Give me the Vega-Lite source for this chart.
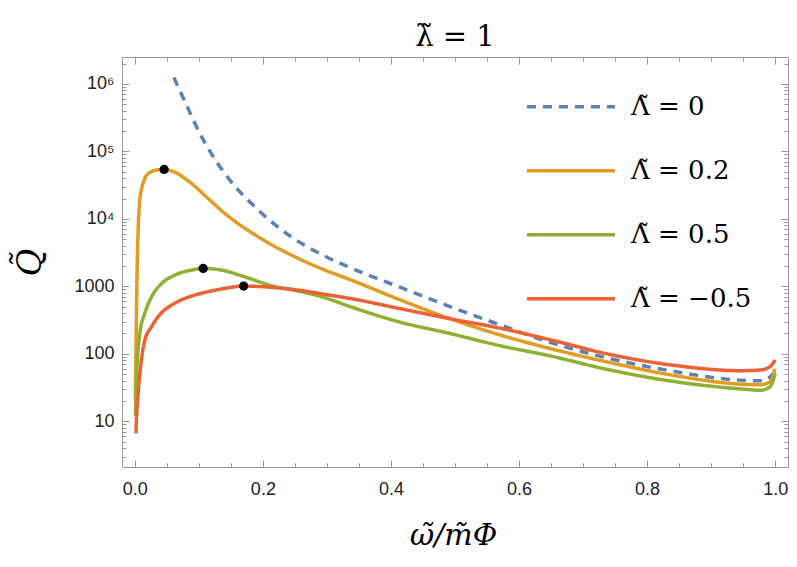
{
  "$schema": "https://vega.github.io/schema/vega-lite/v6.json",
  "width": 666,
  "height": 410,
  "autosize": {"type": "none"},
  "padding": {"left": 122, "top": 57, "right": 9, "bottom": 100},
  "background": "white",
  "title": {"text": "λ̃ = 1", "font": "DejaVu Serif", "fontSize": 29, "fontWeight": "normal", "color": "black", "anchor": "middle", "baseline": "alphabetic", "offset": -18},
  "config": {
    "view": {"stroke": "#999", "strokeWidth": 1},
    "axis": {"grid": false, "domain": false, "tickColor": "#999", "tickWidth": 1, "labelFont": "Liberation Sans", "labelFontSize": 18, "labelColor": "#222", "titleColor": "black"},
    "legend": {"labelFont": "DejaVu Serif", "labelFontSize": 26, "labelColor": "black", "labelOffset": 14, "rowPadding": 0, "clipHeight": 63.5, "symbolType": "stroke", "symbolSize": 7744, "symbolStrokeWidth": 3.5, "titleFontSize": 0}
  },
  "datasets": {
    "curves": [
      {"s": "Λ̃ = 0", "x": 0.061, "q": 1245000},
      {"s": "Λ̃ = 0", "x": 0.08, "q": 501187},
      {"s": "Λ̃ = 0", "x": 0.1016, "q": 184077},
      {"s": "Λ̃ = 0", "x": 0.1206, "q": 89125},
      {"s": "Λ̃ = 0", "x": 0.1406, "q": 46774},
      {"s": "Λ̃ = 0", "x": 0.1927, "q": 13490},
      {"s": "Λ̃ = 0", "x": 0.245, "q": 5370},
      {"s": "Λ̃ = 0", "x": 0.292, "q": 2950},
      {"s": "Λ̃ = 0", "x": 0.336, "q": 1900},
      {"s": "Λ̃ = 0", "x": 0.414, "q": 970},
      {"s": "Λ̃ = 0", "x": 0.492, "q": 501},
      {"s": "Λ̃ = 0", "x": 0.57, "q": 269},
      {"s": "Λ̃ = 0", "x": 0.648, "q": 148},
      {"s": "Λ̃ = 0", "x": 0.737, "q": 87.1},
      {"s": "Λ̃ = 0", "x": 0.841, "q": 55.0},
      {"s": "Λ̃ = 0", "x": 0.945, "q": 40.7},
      {"s": "Λ̃ = 0", "x": 0.982, "q": 39.8},
      {"s": "Λ̃ = 0", "x": 0.997, "q": 51.3},
      {"s": "Λ̃ = 0.2", "x": 0.0008, "q": 20},
      {"s": "Λ̃ = 0.2", "x": 0.002, "q": 158},
      {"s": "Λ̃ = 0.2", "x": 0.0035, "q": 1585},
      {"s": "Λ̃ = 0.2", "x": 0.0055, "q": 7943},
      {"s": "Λ̃ = 0.2", "x": 0.0078, "q": 19055},
      {"s": "Λ̃ = 0.2", "x": 0.0104, "q": 26915},
      {"s": "Λ̃ = 0.2", "x": 0.0156, "q": 39811},
      {"s": "Λ̃ = 0.2", "x": 0.021, "q": 46774},
      {"s": "Λ̃ = 0.2", "x": 0.026, "q": 50119},
      {"s": "Λ̃ = 0.2", "x": 0.035, "q": 53088},
      {"s": "Λ̃ = 0.2", "x": 0.0458, "q": 53951},
      {"s": "Λ̃ = 0.2", "x": 0.06, "q": 50119},
      {"s": "Λ̃ = 0.2", "x": 0.0885, "q": 33420},
      {"s": "Λ̃ = 0.2", "x": 0.1146, "q": 19953},
      {"s": "Λ̃ = 0.2", "x": 0.1406, "q": 12023},
      {"s": "Λ̃ = 0.2", "x": 0.1927, "q": 5408},
      {"s": "Λ̃ = 0.2", "x": 0.245, "q": 2884},
      {"s": "Λ̃ = 0.2", "x": 0.297, "q": 1738},
      {"s": "Λ̃ = 0.2", "x": 0.336, "q": 1259},
      {"s": "Λ̃ = 0.2", "x": 0.414, "q": 631},
      {"s": "Λ̃ = 0.2", "x": 0.492, "q": 331},
      {"s": "Λ̃ = 0.2", "x": 0.57, "q": 190.5},
      {"s": "Λ̃ = 0.2", "x": 0.648, "q": 120},
      {"s": "Λ̃ = 0.2", "x": 0.737, "q": 75.9},
      {"s": "Λ̃ = 0.2", "x": 0.841, "q": 47.9},
      {"s": "Λ̃ = 0.2", "x": 0.945, "q": 35.5},
      {"s": "Λ̃ = 0.2", "x": 0.977, "q": 34.7},
      {"s": "Λ̃ = 0.2", "x": 0.992, "q": 38.5},
      {"s": "Λ̃ = 0.2", "x": 0.997, "q": 45.7},
      {"s": "Λ̃ = 0.2", "x": 0.999, "q": 60.3},
      {"s": "Λ̃ = 0.5", "x": 0.001, "q": 12.0},
      {"s": "Λ̃ = 0.5", "x": 0.0025, "q": 40},
      {"s": "Λ̃ = 0.5", "x": 0.0042, "q": 85},
      {"s": "Λ̃ = 0.5", "x": 0.0078, "q": 200},
      {"s": "Λ̃ = 0.5", "x": 0.0156, "q": 398},
      {"s": "Λ̃ = 0.5", "x": 0.026, "q": 692},
      {"s": "Λ̃ = 0.5", "x": 0.0417, "q": 1096},
      {"s": "Λ̃ = 0.5", "x": 0.0625, "q": 1466},
      {"s": "Λ̃ = 0.5", "x": 0.0885, "q": 1738},
      {"s": "Λ̃ = 0.5", "x": 0.1068, "q": 1841},
      {"s": "Λ̃ = 0.5", "x": 0.1406, "q": 1700},
      {"s": "Λ̃ = 0.5", "x": 0.1667, "q": 1430},
      {"s": "Λ̃ = 0.5", "x": 0.219, "q": 990},
      {"s": "Λ̃ = 0.5", "x": 0.258, "q": 840},
      {"s": "Λ̃ = 0.5", "x": 0.297, "q": 676},
      {"s": "Λ̃ = 0.5", "x": 0.336, "q": 501},
      {"s": "Λ̃ = 0.5", "x": 0.414, "q": 295},
      {"s": "Λ̃ = 0.5", "x": 0.492, "q": 200},
      {"s": "Λ̃ = 0.5", "x": 0.57, "q": 132},
      {"s": "Λ̃ = 0.5", "x": 0.648, "q": 93.3},
      {"s": "Λ̃ = 0.5", "x": 0.737, "q": 58.9},
      {"s": "Λ̃ = 0.5", "x": 0.841, "q": 38.9},
      {"s": "Λ̃ = 0.5", "x": 0.945, "q": 30.2},
      {"s": "Λ̃ = 0.5", "x": 0.977, "q": 28.8},
      {"s": "Λ̃ = 0.5", "x": 0.992, "q": 32.4},
      {"s": "Λ̃ = 0.5", "x": 1.0, "q": 51.3},
      {"s": "Λ̃ = −0.5", "x": 0.0016, "q": 6.61},
      {"s": "Λ̃ = −0.5", "x": 0.003, "q": 12.6},
      {"s": "Λ̃ = −0.5", "x": 0.0052, "q": 25.7},
      {"s": "Λ̃ = −0.5", "x": 0.0104, "q": 81.3},
      {"s": "Λ̃ = −0.5", "x": 0.0156, "q": 158.5},
      {"s": "Λ̃ = −0.5", "x": 0.026, "q": 251},
      {"s": "Λ̃ = −0.5", "x": 0.0365, "q": 355},
      {"s": "Λ̃ = −0.5", "x": 0.0625, "q": 562},
      {"s": "Λ̃ = −0.5", "x": 0.0885, "q": 716},
      {"s": "Λ̃ = −0.5", "x": 0.1146, "q": 832},
      {"s": "Λ̃ = −0.5", "x": 0.1406, "q": 933},
      {"s": "Λ̃ = −0.5", "x": 0.17, "q": 1007},
      {"s": "Λ̃ = −0.5", "x": 0.219, "q": 955},
      {"s": "Λ̃ = −0.5", "x": 0.258, "q": 871},
      {"s": "Λ̃ = −0.5", "x": 0.297, "q": 759},
      {"s": "Λ̃ = −0.5", "x": 0.336, "q": 661},
      {"s": "Λ̃ = −0.5", "x": 0.414, "q": 468},
      {"s": "Λ̃ = −0.5", "x": 0.492, "q": 331},
      {"s": "Λ̃ = −0.5", "x": 0.57, "q": 240},
      {"s": "Λ̃ = −0.5", "x": 0.648, "q": 162},
      {"s": "Λ̃ = −0.5", "x": 0.737, "q": 100},
      {"s": "Λ̃ = −0.5", "x": 0.841, "q": 67.6},
      {"s": "Λ̃ = −0.5", "x": 0.945, "q": 56.2},
      {"s": "Λ̃ = −0.5", "x": 0.977, "q": 57.5},
      {"s": "Λ̃ = −0.5", "x": 0.992, "q": 64.6},
      {"s": "Λ̃ = −0.5", "x": 1.0, "q": 81.3}
    ],
    "peaks": [
      {"x": 0.0458, "q": 53951},
      {"x": 0.1068, "q": 1841},
      {"x": 0.17, "q": 1007}
    ]
  },
  "resolve": {"axis": {"x": "independent", "y": "independent"}},
  "layer": [
    {
      "data": {"name": "curves"},
      "mark": {"type": "line", "strokeWidth": 3.5, "interpolate": "monotone"},
      "encoding": {
        "x": {"field": "x", "type": "quantitative", "scale": {"domain": [-0.02, 1.02], "nice": false, "zero": false},
              "axis": {"orient": "bottom", "values": [0, 0.2, 0.4, 0.6, 0.8, 1.0], "format": ".1f", "tickSize": -7, "labelPadding": 20,
                       "title": "ω̃/m̃Φ", "titleFont": "DejaVu Serif", "titleFontStyle": "italic", "titleFontWeight": "normal", "titleFontSize": 30,
                       "titleX": 331, "titleY": 68, "titleBaseline": "middle", "titleAlign": "center"}},
        "y": {"field": "q", "type": "quantitative", "scale": {"type": "log", "domain": [2.1, 2500000], "nice": false},
              "axis": {"orient": "left", "values": [10, 100, 1000, 10000, 100000, 1000000], "tickSize": -7, "labelPadding": 15,
                       "labelExpr": "datum.value == 1000000 ? '10⁶' : datum.value == 100000 ? '10⁵' : datum.value == 10000 ? '10⁴' : format(datum.value, 'd')",
                       "title": "Q̃", "titleFont": "DejaVu Serif", "titleFontStyle": "italic", "titleFontWeight": "normal", "titleFontSize": 34,
                       "titleX": -92, "titleY": 205, "titleAngle": -90, "titleBaseline": "middle", "titleAlign": "center"}},
        "color": {"field": "s", "type": "nominal",
                  "scale": {"domain": ["Λ̃ = 0", "Λ̃ = 0.2", "Λ̃ = 0.5", "Λ̃ = −0.5"], "range": ["#5E81B5", "#E19C24", "#8FB032", "#EB6235"]},
                  "legend": {"orient": "none", "legendX": 403, "legendY": 18, "title": null}},
        "strokeDash": {"field": "s", "type": "nominal",
                       "scale": {"domain": ["Λ̃ = 0", "Λ̃ = 0.2", "Λ̃ = 0.5", "Λ̃ = −0.5"], "range": [[9, 7], [1, 0], [1, 0], [1, 0]]},
                       "legend": {"orient": "none", "legendX": 403, "legendY": 18, "title": null}}
      }
    },
    {
      "data": {"name": "peaks"},
      "mark": {"type": "point", "filled": true, "color": "black", "size": 85, "opacity": 1},
      "encoding": {
        "x": {"field": "x", "type": "quantitative",
              "axis": {"orient": "bottom", "values": [0.05, 0.1, 0.15, 0.25, 0.3, 0.35, 0.45, 0.5, 0.55, 0.65, 0.7, 0.75, 0.85, 0.9, 0.95], "tickSize": -4, "labels": false, "title": null}},
        "y": {"field": "q", "type": "quantitative",
              "axis": {"orient": "left", "values": [3,4,5,6,7,8,9,20,30,40,50,60,70,80,90,200,300,400,500,600,700,800,900,2000,3000,4000,5000,6000,7000,8000,9000,20000,30000,40000,50000,60000,70000,80000,90000,200000,300000,400000,500000,600000,700000,800000,900000,2000000], "tickSize": -4, "labels": false, "title": null}}
      }
    },
    {
      "data": {"name": "peaks"},
      "mark": {"type": "point", "opacity": 0},
      "encoding": {
        "x": {"field": "x", "type": "quantitative",
              "axis": {"orient": "top", "values": [0, 0.2, 0.4, 0.6, 0.8, 1.0], "tickSize": -7, "labels": false, "title": null}},
        "y": {"field": "q", "type": "quantitative",
              "axis": {"orient": "right", "values": [10, 100, 1000, 10000, 100000, 1000000], "tickSize": -7, "labels": false, "title": null}}
      }
    },
    {
      "data": {"name": "peaks"},
      "mark": {"type": "point", "opacity": 0},
      "encoding": {
        "x": {"field": "x", "type": "quantitative",
              "axis": {"orient": "top", "values": [0.05, 0.1, 0.15, 0.25, 0.3, 0.35, 0.45, 0.5, 0.55, 0.65, 0.7, 0.75, 0.85, 0.9, 0.95], "tickSize": -4, "labels": false, "title": null}},
        "y": {"field": "q", "type": "quantitative",
              "axis": {"orient": "right", "values": [3,4,5,6,7,8,9,20,30,40,50,60,70,80,90,200,300,400,500,600,700,800,900,2000,3000,4000,5000,6000,7000,8000,9000,20000,30000,40000,50000,60000,70000,80000,90000,200000,300000,400000,500000,600000,700000,800000,900000,2000000], "tickSize": -4, "labels": false, "title": null}}
      }
    }
  ]
}
